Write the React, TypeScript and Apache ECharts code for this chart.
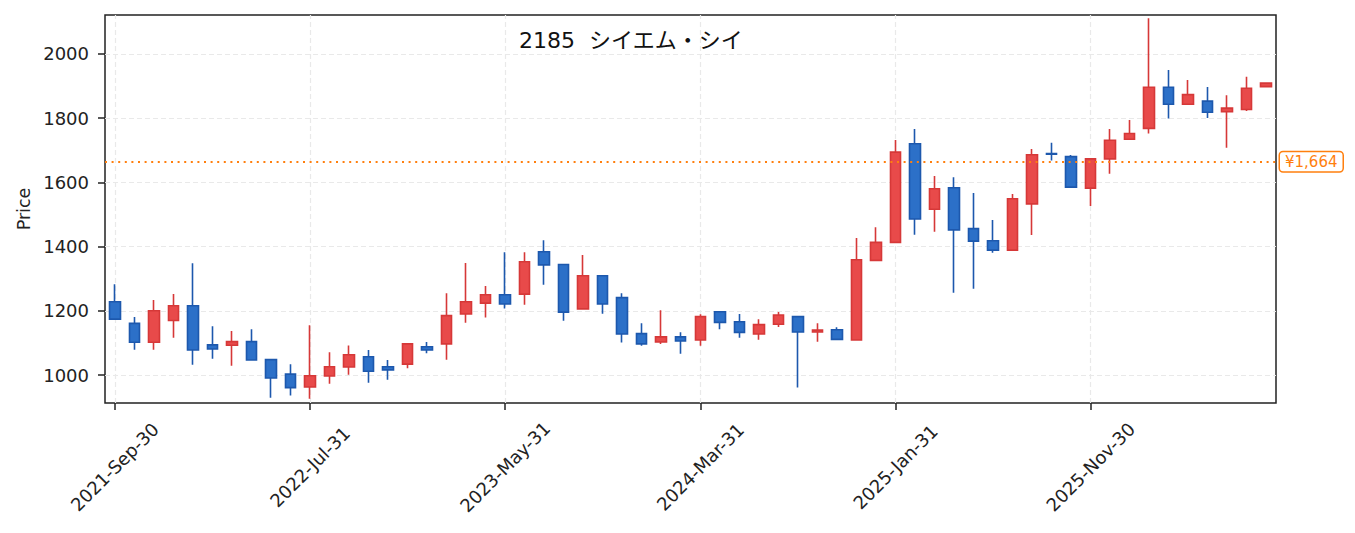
import React, { useEffect, useRef } from "react";
import * as echarts from "echarts";

const categories = [
  "2021-Sep-30", "2021-Oct-31", "2021-Nov-30", "2021-Dec-31",
  "2022-Jan-31", "2022-Feb-28", "2022-Mar-31", "2022-Apr-30", "2022-May-31", "2022-Jun-30",
  "2022-Jul-31", "2022-Aug-31", "2022-Sep-30", "2022-Oct-31", "2022-Nov-30", "2022-Dec-31",
  "2023-Jan-31", "2023-Feb-28", "2023-Mar-31", "2023-Apr-30", "2023-May-31", "2023-Jun-30",
  "2023-Jul-31", "2023-Aug-31", "2023-Sep-30", "2023-Oct-31", "2023-Nov-30", "2023-Dec-31",
  "2024-Jan-31", "2024-Feb-29", "2024-Mar-31", "2024-Apr-30", "2024-May-31", "2024-Jun-30",
  "2024-Jul-31", "2024-Aug-31", "2024-Sep-30", "2024-Oct-31", "2024-Nov-30", "2024-Dec-31",
  "2025-Jan-31", "2025-Feb-28", "2025-Mar-31", "2025-Apr-30", "2025-May-31", "2025-Jun-30",
  "2025-Jul-31", "2025-Aug-31", "2025-Sep-30", "2025-Oct-31", "2025-Nov-30", "2025-Dec-31",
  "2026-Jan-31", "2026-Feb-28", "2026-Mar-31", "2026-Apr-30", "2026-May-31", "2026-Jun-30",
  "2026-Jul-31", "2026-Aug-31",
];

const opens = [
  1228, 1161, 1102, 1170, 1216, 1094, 1093, 1104, 1048, 1003,
  963, 997, 1025, 1057, 1026, 1034, 1088, 1097, 1190, 1224,
  1250, 1252, 1384, 1344, 1206, 1309, 1241, 1129, 1103, 1119,
  1109, 1197, 1166, 1128, 1158, 1182, 1134, 1141, 1109, 1357,
  1413, 1720, 1516, 1583, 1456, 1418, 1389, 1533, 1690, 1680,
  1582, 1673, 1734, 1768, 1896, 1843, 1853, 1820, 1827, 1898,
];
const closes = [
  1174, 1102, 1200, 1216, 1078, 1081, 1104, 1047, 991, 961,
  998, 1026, 1063, 1012, 1016, 1097, 1078, 1185, 1228, 1250,
  1221, 1353, 1343, 1196, 1309, 1221, 1128, 1097, 1119, 1106,
  1182, 1164, 1133, 1157, 1187, 1134, 1140, 1111, 1359, 1413,
  1694, 1486, 1580, 1452, 1417, 1389, 1549, 1686, 1688, 1585,
  1673, 1731, 1752, 1896, 1843, 1873, 1818, 1831, 1893, 1909,
];
const lows = [
  1174, 1079, 1079, 1116, 1032, 1051, 1029, 1045, 929, 936,
  926, 973, 1001, 976, 985, 1021, 1068, 1048, 1163, 1179,
  1207, 1219, 1281, 1169, 1206, 1191, 1101, 1091, 1097, 1066,
  1091, 1143, 1116, 1110, 1150, 961, 1104, 1108, 1109, 1357,
  1413, 1437, 1446, 1256, 1269, 1381, 1389, 1436, 1668, 1585,
  1526, 1627, 1734, 1752, 1799, 1843, 1800, 1708, 1822, 1895,
];
const highs = [
  1283, 1181, 1234, 1252, 1348, 1152, 1137, 1143, 1048, 1034,
  1155, 1071, 1092, 1078, 1047, 1098, 1103, 1255, 1349, 1277,
  1382, 1382, 1420, 1344, 1374, 1309, 1255, 1161, 1202, 1133,
  1189, 1197, 1190, 1174, 1196, 1182, 1161, 1149, 1427, 1460,
  1732, 1766, 1620, 1616, 1567, 1483, 1564, 1704, 1723, 1685,
  1675, 1766, 1794, 2111, 1950, 1919, 1897, 1871, 1929, 1910,
];

const xTickLabels = ["2021-Sep-30", "2022-Jul-31", "2023-May-31", "2024-Mar-31", "2025-Jan-31", "2025-Nov-30"];
const yTicks = [1000, 1200, 1400, 1600, 1800, 2000];
const lastPrice = 1664;
const titleText = "2185  シイエム・シイ";
const yAxisName = "Price";

const FONT = "'DejaVu Sans', 'Noto Sans CJK JP', sans-serif";
const INK = "#222222";
const GRID = "#e9e9e9";
const ORANGE = "#ff7f0e";

export default function App() {
  const ref = useRef<HTMLDivElement>(null);

  useEffect(() => {
    if (!ref.current) return;
    const chart = echarts.init(ref.current, null, { renderer: "svg" });
    const candleData = categories.map((_, i) => [opens[i], closes[i], lows[i], highs[i]]);
    const isTick = (_: number, v: string) => xTickLabels.includes(v);

    chart.setOption({
      animation: false,
      backgroundColor: "#ffffff",
      title: {
        text: titleText,
        left: 519,
        top: 29,
        padding: 0,
        textStyle: { fontFamily: FONT, fontSize: 22, fontWeight: "normal", color: "#111", lineHeight: 22 },
      },
      grid: {
        left: 105,
        right: 79,
        top: 15,
        bottom: 130,
        show: true,
        borderColor: INK,
        borderWidth: 1.5,
        backgroundColor: "transparent",
      },
      xAxis: {
        type: "category",
        data: categories,
        boundaryGap: true,
        axisLine: { show: false },
        axisTick: {
          show: true,
          interval: isTick,
          alignWithLabel: true,
          length: 7,
          lineStyle: { color: INK, width: 1.5 },
        },
        axisLabel: {
          interval: isTick,
          rotate: 45,
          align: "center",
          verticalAlign: "middle",
          margin: 64,
          fontFamily: FONT,
          fontSize: 18,
          color: INK,
        },
        splitLine: { show: false },
      },
      yAxis: {
        type: "value",
        min: 913,
        max: 2121,
        name: yAxisName,
        nameLocation: "middle",
        nameGap: 59,
        nameTextStyle: { fontFamily: FONT, fontSize: 17.5, color: INK },
        axisLine: { show: false },
        axisTick: { show: true, customValues: yTicks, length: 7, lineStyle: { color: INK, width: 1.5 } },
        axisLabel: {
          customValues: yTicks,
          margin: 16,
          fontFamily: FONT,
          fontSize: 18,
          color: INK,
          formatter: (v: number) => String(v),
        },
        splitLine: { show: true, lineStyle: { color: GRID, type: [5, 3], width: 1.2 } },
      },
      series: [
        {
          type: "line",
          data: [],
          silent: true,
          markLine: {
            silent: true,
            z: 1,
            symbol: ["none", "none"],
            label: { show: false },
            lineStyle: { color: GRID, type: [5, 3], width: 1.2 },
            data: xTickLabels.map((c) => ({ xAxis: c })),
            animation: false,
          },
        },
        {
          type: "candlestick",
          data: candleData,
          barWidth: 11,
          z: 3,
          itemStyle: {
            color: "#e84a4a",
            color0: "#2c70c8",
            borderColor: "#d63838",
            borderColor0: "#1d58ad",
            borderWidth: 1.6,
          },
          emphasis: { disabled: true },
          markLine: {
            silent: true,
            symbol: ["none", "none"],
            animation: false,
            lineStyle: { color: ORANGE, type: [2, 4.6], width: 2 },
            label: {
              show: true,
              position: "end",
              distance: 4,
              formatter: () => "¥" + lastPrice.toLocaleString("en-US"),
              color: ORANGE,
              fontFamily: FONT,
              fontSize: 15,
              backgroundColor: "#ffffff",
              borderColor: ORANGE,
              borderWidth: 1.5,
              borderRadius: 3,
              padding: [2, 5, 2, 5],
            },
            data: [{ yAxis: lastPrice }],
          },
        },
      ],
    });

    return () => chart.dispose();
  }, []);

  return (
    <div
      ref={ref}
      style={{ position: "absolute", left: 0, top: 0, width: 1355, height: 533, background: "#fff" }}
    />
  );
}
